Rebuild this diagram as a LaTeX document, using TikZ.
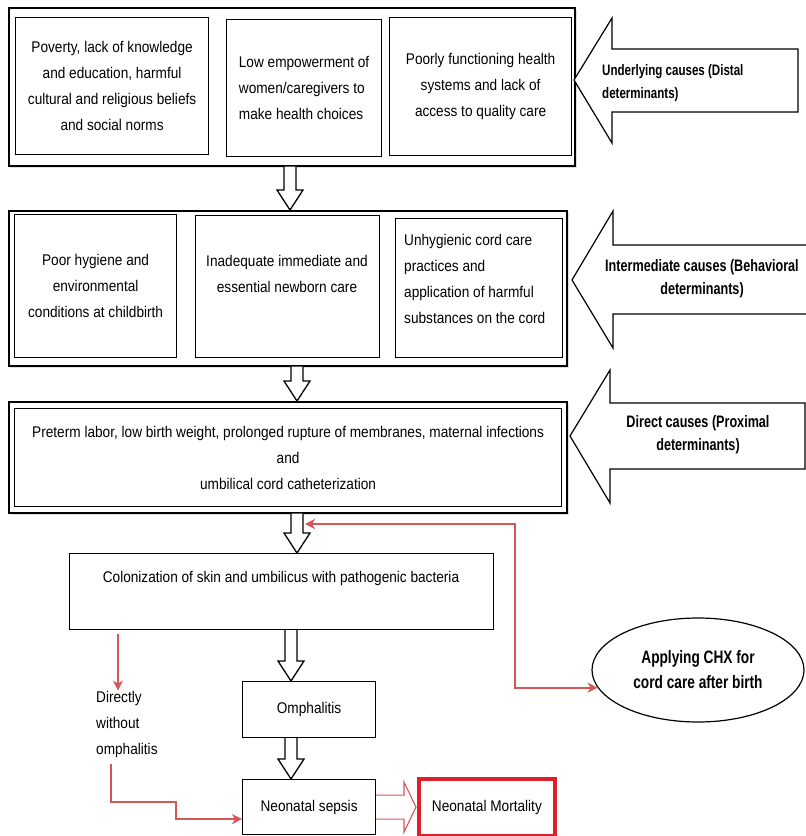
\documentclass[tikz,border=0pt]{standalone}
\usepackage{fontspec}
\setmainfont{Liberation Sans}[FakeStretch=0.88]
\newfontfamily\lblfont{Liberation Sans}[FakeStretch=0.76]
\usetikzlibrary{arrows.meta,calc,shadows,shapes.geometric}
\definecolor{redln}{RGB}{214,86,88}
\definecolor{redbox}{RGB}{222,32,42}
\tikzset{
  group/.style   = {rectangle, draw, line width=1.7pt, fill=white, anchor=north west, inner sep=0,
                    drop shadow={shadow xshift=2pt, shadow yshift=-2pt, opacity=.25}},
  cell/.style    = {rectangle, draw, line width=1.2pt, fill=white, anchor=north west, inner sep=0,
                    align=center, font=\fontsize{15.5}{26}\selectfont},
  txt/.style     = {align=center, inner sep=0, font=\fontsize{15.5}{26}\selectfont},
  cause/.style   = {align=center, inner sep=0, font=\lblfont\bfseries\fontsize{16.6}{23}\selectfont},
  bigarr/.style  = {draw, line width=1.2pt, fill=white},
  hollow/.style  = {draw, line width=1.3pt, fill=white},
  redhollow/.style = {draw=redln, line width=1.1pt, fill=white},
  redarr/.style  = {draw=redln, line width=2pt, >={Stealth[length=10pt,width=10pt,inset=3pt]}}
}
\newcommand{\blockdown}[3]{%
  \draw[hollow] let \p1=(#2.south), \p2=(#3.north) in
    (#1pt-6pt,\y1) -- (#1pt-6pt,\y2+20pt) -- (#1pt-13pt,\y2+20pt) -- (#1pt,\y2)
    -- (#1pt+13pt,\y2+20pt) -- (#1pt+6pt,\y2+20pt) -- (#1pt+6pt,\y1);}

\begin{document}
\begin{tikzpicture}[x=1pt,y=-1pt]
  \useasboundingbox (0,0) rectangle (806,836);

  \node[group, minimum width=566, minimum height=158] (g1) at (8,7) {};
  \node[cell, minimum width=193, minimum height=137] (a1) at (15,17)
    {Poverty, lack of knowledge\\and education, harmful\\cultural and religious beliefs\\and social norms};
  \node[cell, align=left, minimum width=155, minimum height=137] (a2) at (226,19)
    {Low empowerment of\\women/caregivers to\\make health choices};
  \node[cell, minimum width=182, minimum height=138] (a3) at (389,17)
    {Poorly functioning health\\systems and lack of\\access to quality care};

  \node[group, minimum width=558, minimum height=155] (g2) at (8,210) {};
  \node[cell, minimum width=162, minimum height=143] (b1) at (14,214)
    {Poor hygiene and\\environmental\\conditions at childbirth};
  \node[cell, minimum width=184, minimum height=142] (b2) at (195,215) {};
  \node[txt] (b2t) at (287,273.5) {Inadequate immediate and\\essential newborn care};
  \node[cell, minimum width=167, minimum height=139] (b3) at (395,218) {};
  \node[txt, align=left, anchor=west] (b3t) at (404,279)
    {Unhygienic cord care\\practices and\\application of harmful\\substances on the cord};

  \node[group, minimum width=558, minimum height=111] (g3) at (8,401) {};
  \node[cell, minimum width=547, minimum height=98] (c1) at (14,408)
    {Preterm labor, low birth weight, prolonged rupture of membranes, maternal infections\\and\\umbilical cord catheterization};

  \draw[bigarr] (574,80) -- (612,18) -- (612,49) -- (798,49) -- (798,112) -- (612,112) -- (612,143) -- cycle;
  \node[cause, align=left, anchor=west, font=\lblfont\bfseries\fontsize{15.2}{23}\selectfont] (cz1) at (602,83.5)
    {Underlying causes (Distal\\determinants)};
  \draw[bigarr] (572,280) -- (613,211) -- (613,245) -- (812,245) -- (812,314) -- (613,314) -- (613,348) -- cycle;
  \node[cause] (cz2) at (702,278.5) {Intermediate causes (Behavioral\\determinants)};
  \draw[bigarr] (570,436) -- (610,370) -- (610,403) -- (805,403) -- (805,469) -- (610,469) -- (610,503) -- cycle;
  \node[cause] (cz3) at (698,435) {Direct causes (Proximal\\determinants)};

  \node[cell, minimum width=424, minimum height=76] (col) at (69,553) {};
  \node[txt] (colt) at (281,578) {Colonization of skin and umbilicus with pathogenic bacteria};
  \node[cell, minimum width=133, minimum height=56] (omp) at (242,681) {Omphalitis};
  \node[cell, minimum width=133, minimum height=55] (sep) at (242,779) {Neonatal sepsis};
  \node[cell, draw=redbox, line width=3.8pt, minimum width=136, minimum height=57] (mort) at (417,777)
    {Neonatal Mortality};
  \node[ellipse, draw, line width=1.2pt, minimum width=212, minimum height=104, align=center,
        font=\lblfont\bfseries\fontsize{18}{25}\selectfont] (chx) at (698,670)
    {Applying CHX for\\cord care after birth};
  \node[txt, align=left, anchor=west] (dir) at (96,724) {Directly\\without\\omphalitis};

  \blockdown{290}{g1}{g2}
  \blockdown{297}{g2}{g3}
  \blockdown{297}{g3}{col}
  \blockdown{291}{col}{omp}
  \blockdown{291}{omp}{sep}
  \draw[redhollow] let \p1=(sep.east), \p2=(mort.west) in
    (\x1,\y1+12pt) -- (\x2-13pt,\y1+12pt) -- (\x2-13pt,\y1+25pt) -- (\x2-1pt,\y1)
    -- (\x2-13pt,\y1-25pt) -- (\x2-13pt,\y1-12pt) -- (\x1,\y1-12pt);

  \coordinate (hit) at (305,524);
  \coordinate (d0) at (118,634);
  \coordinate (d1) at (111,764);
  \draw[redarr,<->] (hit) -| ([xshift=-83pt]chx.190) -- (chx.190);
  \draw[redarr,->] (d0) -- (dir.north -| d0);
  \draw[redarr,->] (d1) |- (176,802) |- ([yshift=-12pt]sep.west);
\end{tikzpicture}
\end{document}
